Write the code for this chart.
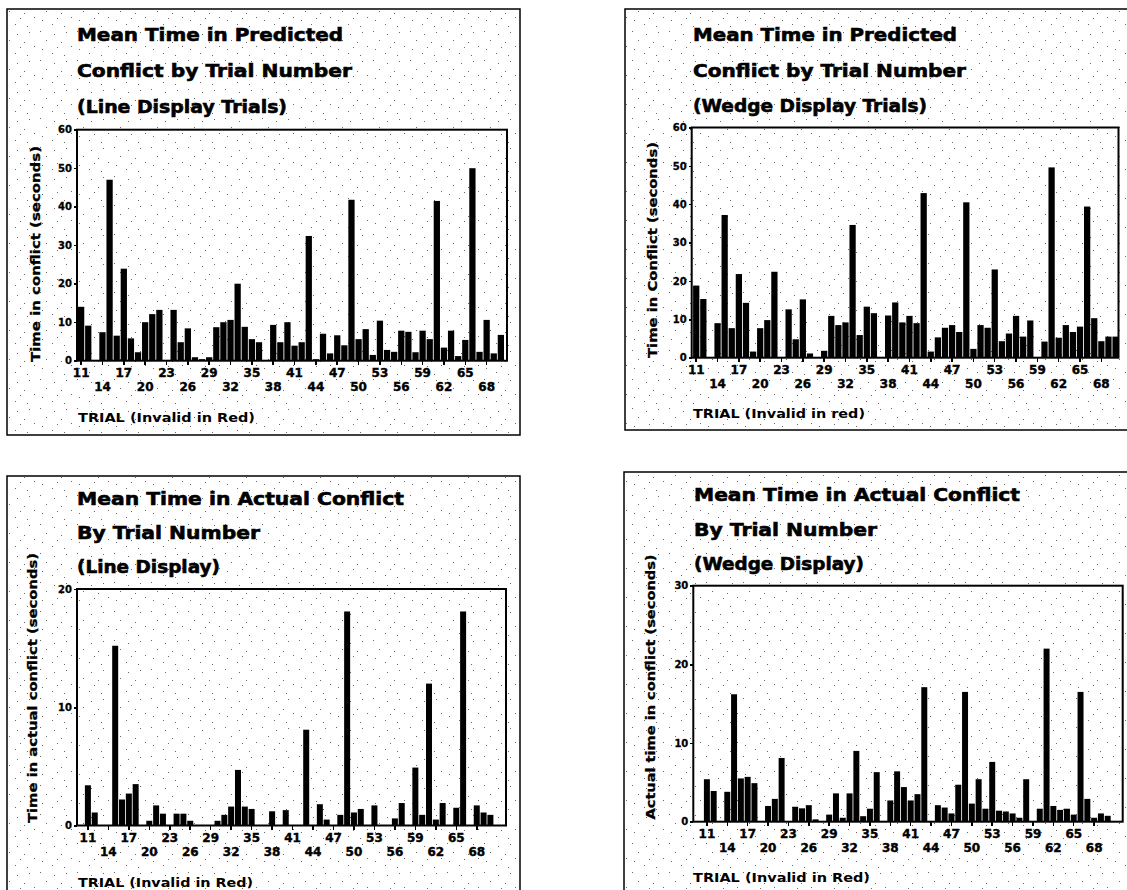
<!DOCTYPE html>
<html lang="en">
  <head>
    <meta charset="UTF-8" />
    <title>Mean Time in Conflict by Trial Number</title>
    <script src="https://d3js.org/d3.v7.min.js"></script>
    <style>
      body {
        margin: 0;
        background: #fff;
      }
      svg text {
        font-family: 'DejaVu Sans', 'Liberation Sans', sans-serif;
        font-weight: bold;
        fill: #000;
      }
      .heavy {
        stroke: #000;
        stroke-width: 0.6;
      }
      .axis path,
      .axis line {
        stroke: #000;
        stroke-width: 1.5;
        shape-rendering: crispEdges;
      }
    </style>
  </head>
  <body>
    <div id="chart"></div>
    <script>
      // trials 11..70, one bar each
      const trials = d3.range(11, 71);
      // x labels alternate between two rows
      const tickRow1 = [11, 17, 23, 29, 35, 41, 47, 53, 59, 65];
      const tickRow2 = [14, 20, 26, 32, 38, 44, 50, 56, 62, 68];

      // mean time in predicted conflict, line display (seconds)
      const predictedLine = [
        14, 9.1, 0, 7.4, 47, 6.5, 23.9, 5.8, 2.2, 10,
        12.1, 13.2, 0, 13.2, 4.8, 8.4, 0.9, 0.4, 0.9, 8.7,
        10, 10.6, 20, 8.8, 5.6, 4.8, 0, 9.3, 4.8, 10,
        3.9, 4.8, 32.4, 0.4, 7, 1.9, 6.6, 4, 41.8, 5.6,
        8.2, 1.5, 10.4, 2.8, 2.3, 7.8, 7.5, 2.2, 7.8, 5.6,
        41.5, 3.4, 7.8, 1.2, 5.4, 50, 2.3, 10.6, 1.9, 6.7,
      ];
      // mean time in predicted conflict, wedge display (seconds)
      const predictedWedge = [
        18.8, 15.3, 0, 9, 37.2, 7.7, 21.8, 14.3, 1.6, 7.7,
        9.8, 22.4, 0, 12.6, 4.8, 15.2, 1.1, 0, 1.8, 10.9,
        8.5, 9.2, 34.6, 5.9, 13.3, 11.6, 0, 11, 14.4, 9.2,
        10.9, 9, 42.9, 1.6, 5.3, 7.8, 8.5, 6.7, 40.5, 2.3,
        8.5, 7.8, 23, 4.3, 6.3, 10.9, 5.5, 9.7, 0, 4.2,
        49.6, 5.2, 8.5, 6.7, 8.1, 39.4, 10.3, 4.3, 5.5, 5.5,
      ];
      // mean time in actual conflict, line display (seconds)
      const actualLine = [
        3.4, 1.1, 0, 0, 15.2, 2.2, 2.7, 3.5, 0, 0.4,
        1.7, 1.0, 0, 1.0, 1.0, 0.4, 0, 0, 0, 0.4,
        0.9, 1.6, 4.7, 1.6, 1.4, 0, 0, 1.2, 0, 1.3,
        0, 0, 8.1, 0, 1.8, 0.5, 0, 0.9, 18.1, 1.1,
        1.4, 0, 1.7, 0, 0, 0.6, 1.9, 0, 4.9, 0.9,
        12.0, 0.5, 1.9, 0, 1.5, 18.1, 0, 1.7, 1.1, 0.9,
      ];
      // mean time in actual conflict, wedge display (seconds)
      const actualWedge = [
        5.4, 3.9, 0, 3.8, 16.2, 5.5, 5.7, 4.9, 0, 2.0,
        2.9, 8.1, 0, 1.9, 1.7, 2.1, 0.3, 0, 0.9, 3.6,
        0.5, 3.6, 9.0, 0.7, 1.65, 6.3, 0, 2.7, 6.4, 4.4,
        2.7, 3.5, 17.1, 0, 2.1, 1.8, 1.05, 4.7, 16.5, 2.3,
        5.4, 1.65, 7.6, 1.4, 1.3, 1.05, 0.5, 5.4, 0, 1.65,
        22.0, 2.0, 1.5, 1.65, 0.9, 16.5, 2.9, 0.5, 1.05, 0.75,
      ];

      const svg = d3
        .select('#chart')
        .append('svg')
        .attr('width', 1127)
        .attr('height', 890);

      // scanned paper speckle
      const pat = svg
        .append('defs')
        .append('pattern')
        .attr('id', 'speckle')
        .attr('patternUnits', 'userSpaceOnUse')
        .attr('width', 37)
        .attr('height', 29);
      pat.append('rect').attr('width', 37).attr('height', 29).attr('fill', '#fff');
      [
        [3, 2], [17, 5], [29, 3], [9, 11], [24, 13],
        [34, 17], [5, 20], [15, 24], [27, 26], [20, 18],
      ].forEach((p) => {
        pat
          .append('rect')
          .attr('x', p[0])
          .attr('y', p[1])
          .attr('width', 1)
          .attr('height', 1)
          .attr('fill', '#666');
      });

      const panels = [
        {
          values: predictedLine,
          yMax: 60,
          yTicks: [0, 10, 20, 30, 40, 50, 60],
          frame: [7, 9, 513, 426],
          plot: [77, 129.7, 430, 231],
          band: [1, 427],
          titles: ['Mean Time in Predicted', 'Conflict by Trial Number', '(Line Display Trials)'],
          titleX: 77,
          titleY: [41, 77, 113],
          titleW: [266, 275, 210],
          yTitle: 'Time in conflict (seconds)',
          yTitlePos: [40, 254, 216],
          xTitle: 'TRIAL (Invalid in Red)',
          xTitlePos: [78, 422, 177],
        },
        {
          values: predictedWedge,
          yMax: 60,
          yTicks: [0, 10, 20, 30, 40, 50, 60],
          frame: [625, 9, 520, 421],
          plot: [691.7, 127.5, 426.8, 230.2],
          band: [1.4, 427],
          titles: ['Mean Time in Predicted', 'Conflict by Trial Number', '(Wedge Display Trials)'],
          titleX: 693,
          titleY: [41, 77, 112],
          titleW: [264, 273, 234],
          yTitle: 'Time in Conflict (seconds)',
          yTitlePos: [657, 250, 216],
          xTitle: 'TRIAL (Invalid in red)',
          xTitlePos: [693, 418, 172],
        },
        {
          values: actualLine,
          yMax: 20,
          yTicks: [0, 10, 20],
          frame: [7, 476, 513, 430],
          plot: [77, 589, 429, 236.5],
          band: [7.9, 416.4],
          titles: ['Mean Time in Actual Conflict', 'By Trial Number', '(Line Display)'],
          titleX: 77,
          titleY: [505, 539, 573],
          titleW: [327, 183, 143],
          yTitle: 'Time in actual conflict (seconds)',
          yTitlePos: [37, 688, 270],
          xTitle: 'TRIAL (Invalid in Red)',
          xTitlePos: [78, 887, 175],
        },
        {
          values: actualWedge,
          yMax: 30,
          yTicks: [0, 10, 20, 30],
          frame: [624, 472, 520, 430],
          plot: [693.3, 585.7, 429.4, 236],
          band: [10.6, 417.4],
          titles: ['Mean Time in Actual Conflict', 'By Trial Number', '(Wedge Display)'],
          titleX: 694,
          titleY: [501, 536, 570],
          titleW: [326, 183, 170],
          yTitle: 'Actual time in conflict (seconds)',
          yTitlePos: [655, 687, 265],
          xTitle: 'TRIAL (Invalid in Red)',
          xTitlePos: [693, 882, 177],
        },
      ];

      panels.forEach(function (p) {
        const g = svg.append('g');
        const [px, py, pw, ph] = p.plot;

        // panel frame
        g.append('rect')
          .attr('x', p.frame[0])
          .attr('y', p.frame[1])
          .attr('width', p.frame[2])
          .attr('height', p.frame[3])
          .attr('fill', 'url(#speckle)')
          .attr('stroke', '#000')
          .attr('stroke-width', 1.5);

        // titles
        p.titles.forEach((t, i) => {
          g.append('text')
            .attr('class', 'heavy')
            .attr('x', p.titleX)
            .attr('y', p.titleY[i])
            .attr('textLength', p.titleW[i])
            .attr('lengthAdjust', 'spacingAndGlyphs')
            .style('font-size', '18px')
            .text(t);
        });

        const x = d3
          .scaleBand()
          .domain(trials)
          .range([px + p.band[0], px + p.band[1]])
          .paddingInner(0.12);

        const y = d3
          .scaleLinear()
          .domain([0, p.yMax])
          .range([py + ph, py]);

        // bars
        g.selectAll('.bar')
          .data(trials)
          .enter()
          .append('rect')
          .attr('class', 'bar')
          .attr('x', (d) => x(d))
          .attr('width', x.bandwidth())
          .attr('y', (d, i) => y(p.values[i]))
          .attr('height', (d, i) => y(0) - y(p.values[i]))
          .attr('fill', '#000');

        // plot box
        g.append('rect')
          .attr('x', px)
          .attr('y', py)
          .attr('width', pw)
          .attr('height', ph)
          .attr('fill', 'none')
          .attr('stroke', '#000')
          .attr('stroke-width', 2);

        // y axis
        const ya = g
          .append('g')
          .attr('class', 'axis')
          .attr('transform', `translate(${px},0)`)
          .call(
            d3
              .axisLeft(y)
              .tickValues(p.yTicks)
              .tickSize(3)
              .tickSizeOuter(0)
              .tickPadding(2)
              .tickFormat(d3.format('d')),
          );
        ya.select('.domain').remove();
        ya.selectAll('text')
          .style('font-size', '10px')
          .style('font-family', 'DejaVu Sans')
          .style('stroke', '#000')
          .style('stroke-width', 0.3);

        // x axis, labels staggered on two rows
        const xa = g
          .append('g')
          .attr('class', 'axis')
          .attr('transform', `translate(0,${py + ph})`)
          .call(
            d3
              .axisBottom(x)
              .tickValues(tickRow1.concat(tickRow2))
              .tickSize(4)
              .tickSizeOuter(0)
              .tickPadding(3),
          );
        xa.select('.domain').remove();
        xa.selectAll('text')
          .style('font-size', '12px')
          .style('font-family', 'DejaVu Sans')
          .style('stroke', '#000')
          .style('stroke-width', 0.4)
          .attr('dy', null)
          .attr('y', (d) => (tickRow1.includes(d) ? 16 : 30));

        // axis titles
        g.append('text')
          .attr('class', 'heavy')
          .style('stroke-width', 0.3)
          .attr('transform', `translate(${p.yTitlePos[0]},${p.yTitlePos[1]}) rotate(-90)`)
          .attr('text-anchor', 'middle')
          .attr('textLength', p.yTitlePos[2])
          .attr('lengthAdjust', 'spacingAndGlyphs')
          .style('font-size', '13px')
          .text(p.yTitle);

        g.append('text')
          .attr('x', p.xTitlePos[0])
          .attr('y', p.xTitlePos[1])
          .attr('textLength', p.xTitlePos[2])
          .attr('lengthAdjust', 'spacingAndGlyphs')
          .style('font-size', '12px')
          .text(p.xTitle);
      });
    </script>
  </body>
</html>
